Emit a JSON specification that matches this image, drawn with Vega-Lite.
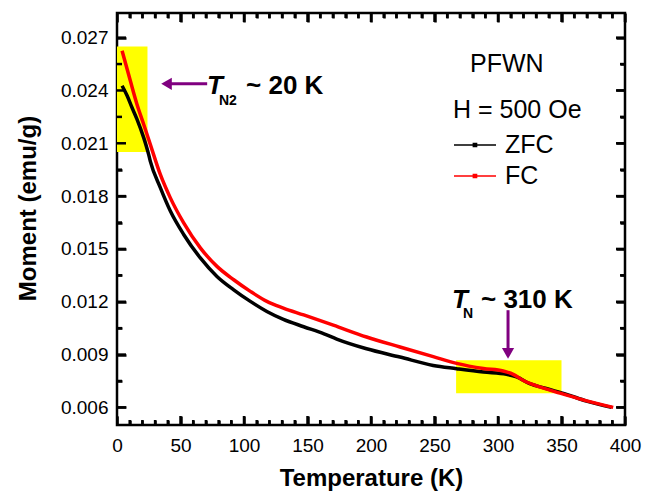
{
  "$schema": "https://vega.github.io/schema/vega-lite/v6.json",
  "width": 508,
  "height": 412,
  "autosize": {"type": "none"},
  "padding": {"left": 117, "top": 13, "right": 31, "bottom": 68},
  "config": {
    "view": {"stroke": "black", "strokeWidth": 2.5},
    "font": "Liberation Sans",
    "axis": {
      "grid": false,
      "domain": false,
      "ticks": true,
      "tickColor": "black",
      "tickWidth": 2.5,
      "labelColor": "black",
      "labelFontSize": 19,
      "labelFont": "Liberation Sans",
      "labelFlush": false,
      "labelOverlap": false,
      "titleColor": "black",
      "titleFont": "Liberation Sans",
      "titleFontSize": 24,
      "titleFontWeight": "bold"
    }
  },
  "datasets": {
    "xticks": [
      {"v": 0, "kind": "major"}, {"v": 10, "kind": "minor"}, {"v": 20, "kind": "minor"}, {"v": 30, "kind": "minor"}, {"v": 40, "kind": "minor"},
      {"v": 50, "kind": "major"}, {"v": 60, "kind": "minor"}, {"v": 70, "kind": "minor"}, {"v": 80, "kind": "minor"}, {"v": 90, "kind": "minor"},
      {"v": 100, "kind": "major"}, {"v": 110, "kind": "minor"}, {"v": 120, "kind": "minor"}, {"v": 130, "kind": "minor"}, {"v": 140, "kind": "minor"},
      {"v": 150, "kind": "major"}, {"v": 160, "kind": "minor"}, {"v": 170, "kind": "minor"}, {"v": 180, "kind": "minor"}, {"v": 190, "kind": "minor"},
      {"v": 200, "kind": "major"}, {"v": 210, "kind": "minor"}, {"v": 220, "kind": "minor"}, {"v": 230, "kind": "minor"}, {"v": 240, "kind": "minor"},
      {"v": 250, "kind": "major"}, {"v": 260, "kind": "minor"}, {"v": 270, "kind": "minor"}, {"v": 280, "kind": "minor"}, {"v": 290, "kind": "minor"},
      {"v": 300, "kind": "major"}, {"v": 310, "kind": "minor"}, {"v": 320, "kind": "minor"}, {"v": 330, "kind": "minor"}, {"v": 340, "kind": "minor"},
      {"v": 350, "kind": "major"}, {"v": 360, "kind": "minor"}, {"v": 370, "kind": "minor"}, {"v": 380, "kind": "minor"}, {"v": 390, "kind": "minor"},
      {"v": 400, "kind": "major"}
    ],
    "yticks": [
      {"v": 0.006, "kind": "major"}, {"v": 0.0075, "kind": "minor"}, {"v": 0.009, "kind": "major"}, {"v": 0.0105, "kind": "minor"},
      {"v": 0.012, "kind": "major"}, {"v": 0.0135, "kind": "minor"}, {"v": 0.015, "kind": "major"}, {"v": 0.0165, "kind": "minor"},
      {"v": 0.018, "kind": "major"}, {"v": 0.0195, "kind": "minor"}, {"v": 0.021, "kind": "major"}, {"v": 0.0225, "kind": "minor"},
      {"v": 0.024, "kind": "major"}, {"v": 0.0255, "kind": "minor"}, {"v": 0.027, "kind": "major"}
    ],
    "curves": [
      {"T": 4.0, "M": 0.02427, "series": "ZFC"},
      {"T": 8, "M": 0.0237, "series": "ZFC"},
      {"T": 11.8, "M": 0.02303, "series": "ZFC"},
      {"T": 15.7, "M": 0.02237, "series": "ZFC"},
      {"T": 21, "M": 0.02132, "series": "ZFC"},
      {"T": 24.9, "M": 0.02037, "series": "ZFC"},
      {"T": 26.2, "M": 0.01999, "series": "ZFC"},
      {"T": 34.1, "M": 0.01848, "series": "ZFC"},
      {"T": 42, "M": 0.01715, "series": "ZFC"},
      {"T": 52.5, "M": 0.01582, "series": "ZFC"},
      {"T": 65.6, "M": 0.01449, "series": "ZFC"},
      {"T": 78.7, "M": 0.01344, "series": "ZFC"},
      {"T": 91.9, "M": 0.01268, "series": "ZFC"},
      {"T": 105, "M": 0.01202, "series": "ZFC"},
      {"T": 118, "M": 0.01145, "series": "ZFC"},
      {"T": 131, "M": 0.01100, "series": "ZFC"},
      {"T": 147, "M": 0.01058, "series": "ZFC"},
      {"T": 163, "M": 0.01018, "series": "ZFC"},
      {"T": 173, "M": 0.00988, "series": "ZFC"},
      {"T": 196.5, "M": 0.00933, "series": "ZFC"},
      {"T": 222.8, "M": 0.00886, "series": "ZFC"},
      {"T": 249, "M": 0.00838, "series": "ZFC"},
      {"T": 267.4, "M": 0.0082, "series": "ZFC"},
      {"T": 288.5, "M": 0.00801, "series": "ZFC"},
      {"T": 306.7, "M": 0.00788, "series": "ZFC"},
      {"T": 314.6, "M": 0.00773, "series": "ZFC"},
      {"T": 325, "M": 0.00735, "series": "ZFC"},
      {"T": 338, "M": 0.00707, "series": "ZFC"},
      {"T": 354, "M": 0.00674, "series": "ZFC"},
      {"T": 369.7, "M": 0.00636, "series": "ZFC"},
      {"T": 389.4, "M": 0.0060, "series": "ZFC"},
      {"T": 4.0, "M": 0.02626, "series": "FC"},
      {"T": 10.5, "M": 0.02455, "series": "FC"},
      {"T": 15.7, "M": 0.02322, "series": "FC"},
      {"T": 21, "M": 0.02208, "series": "FC"},
      {"T": 26.2, "M": 0.02094, "series": "FC"},
      {"T": 34.1, "M": 0.01923, "series": "FC"},
      {"T": 42, "M": 0.0179, "series": "FC"},
      {"T": 52.5, "M": 0.01648, "series": "FC"},
      {"T": 65.6, "M": 0.01506, "series": "FC"},
      {"T": 78.7, "M": 0.01401, "series": "FC"},
      {"T": 91.9, "M": 0.01325, "series": "FC"},
      {"T": 105, "M": 0.01259, "series": "FC"},
      {"T": 118, "M": 0.01202, "series": "FC"},
      {"T": 131, "M": 0.01164, "series": "FC"},
      {"T": 147, "M": 0.01125, "series": "FC"},
      {"T": 170.3, "M": 0.01067, "series": "FC"},
      {"T": 196.5, "M": 0.0100, "series": "FC"},
      {"T": 222.8, "M": 0.00943, "series": "FC"},
      {"T": 249, "M": 0.00888, "series": "FC"},
      {"T": 267.4, "M": 0.0085, "series": "FC"},
      {"T": 288.5, "M": 0.00821, "series": "FC"},
      {"T": 304, "M": 0.00807, "series": "FC"},
      {"T": 312, "M": 0.00788, "series": "FC"},
      {"T": 320, "M": 0.00753, "series": "FC"},
      {"T": 333, "M": 0.00716, "series": "FC"},
      {"T": 348.8, "M": 0.00681, "series": "FC"},
      {"T": 367, "M": 0.00643, "series": "FC"},
      {"T": 390.7, "M": 0.0060, "series": "FC"}
    ]
  },
  "layer": [
    {
      "data": {"values": [
        {"x1": 0, "x2": 24, "y1": 0.0205, "y2": 0.0265},
        {"x1": 267, "x2": 350, "y1": 0.0068, "y2": 0.00868}
      ]},
      "mark": {"type": "rect", "color": "#ffff00"},
      "encoding": {
        "x": {"field": "x1", "type": "quantitative", "scale": {"domain": [0, 400], "nice": false, "zero": false},
          "axis": {"orient": "top", "labels": false, "title": null, "offset": -9, "tickSize": 9,
            "values": [0,50,100,150,200,250,300,350,400]}},
        "x2": {"field": "x2"},
        "y": {"field": "y1", "type": "quantitative", "scale": {"domain": [0.005, 0.0284], "nice": false, "zero": false},
          "axis": {"orient": "right", "labels": false, "title": null, "offset": -9, "tickSize": 9,
            "values": [0.006,0.009,0.012,0.015,0.018,0.021,0.024,0.027]}},
        "y2": {"field": "y2"}
      }
    },
    {
      "data": {"name": "xticks"},
      "mark": {"type": "tick", "orient": "vertical", "clip": true, "thickness": 2.5, "color": "black", "opacity": 1},
      "encoding": {
        "x": {"field": "v", "type": "quantitative", "axis": null, "scale": {"domain": [0, 400], "nice": false, "zero": false}},
        "y": {"datum": 0.005, "type": "quantitative", "axis": null, "scale": {"domain": [0.005, 0.0284], "nice": false, "zero": false}},
        "size": {"field": "kind", "type": "ordinal", "scale": {"domain": ["major", "minor"], "range": [18, 10]}, "legend": null}
      }
    },
    {
      "data": {"name": "xticks"},
      "mark": {"type": "tick", "orient": "vertical", "clip": true, "thickness": 2.5, "color": "black", "opacity": 1},
      "encoding": {
        "x": {"field": "v", "type": "quantitative", "axis": null, "scale": {"domain": [0, 400], "nice": false, "zero": false}},
        "y": {"datum": 0.0284, "type": "quantitative", "axis": null, "scale": {"domain": [0.005, 0.0284], "nice": false, "zero": false}},
        "size": {"field": "kind", "type": "ordinal", "scale": {"domain": ["major", "minor"], "range": [18, 10]}, "legend": null}
      }
    },
    {
      "data": {"name": "yticks"},
      "mark": {"type": "tick", "orient": "horizontal", "clip": true, "thickness": 2.5, "color": "black", "opacity": 1},
      "encoding": {
        "y": {"field": "v", "type": "quantitative", "axis": null, "scale": {"domain": [0.005, 0.0284], "nice": false, "zero": false}},
        "x": {"datum": 0, "type": "quantitative", "axis": null, "scale": {"domain": [0, 400], "nice": false, "zero": false}},
        "size": {"field": "kind", "type": "ordinal", "scale": {"domain": ["major", "minor"], "range": [18, 10]}, "legend": null}
      }
    },
    {
      "data": {"name": "yticks"},
      "mark": {"type": "tick", "orient": "horizontal", "clip": true, "thickness": 2.5, "color": "black", "opacity": 1},
      "encoding": {
        "y": {"field": "v", "type": "quantitative", "axis": null, "scale": {"domain": [0.005, 0.0284], "nice": false, "zero": false}},
        "x": {"datum": 400, "type": "quantitative", "axis": null, "scale": {"domain": [0, 400], "nice": false, "zero": false}},
        "size": {"field": "kind", "type": "ordinal", "scale": {"domain": ["major", "minor"], "range": [18, 10]}, "legend": null}
      }
    },
    {
      "data": {"name": "curves"},
      "mark": {"type": "line", "strokeWidth": 3.5, "interpolate": "monotone"},
      "encoding": {
        "x": {"field": "T", "type": "quantitative", "scale": {"domain": [0, 400], "nice": false, "zero": false},
          "axis": {"orient": "bottom", "title": "Temperature (K)", "offset": -9, "tickSize": 9,
            "values": [0,50,100,150,200,250,300,350,400],
            "labelPadding": 11,
            "titleY": 69, "titleBaseline": "alphabetic"}},
        "y": {"field": "M", "type": "quantitative", "scale": {"domain": [0.005, 0.0284], "nice": false, "zero": false},
          "axis": {"orient": "left", "title": "Moment (emu/g)", "format": ".3f", "offset": -9, "tickSize": 9,
            "values": [0.006,0.009,0.012,0.015,0.018,0.021,0.024,0.027],
            "labelPadding": 9,
            "titleX": -98, "titleY": 195, "titleAngle": -90, "titleAlign": "center", "titleBaseline": "middle"}},
        "color": {"field": "series", "type": "nominal",
          "scale": {"domain": ["ZFC", "FC"], "range": ["#000000", "#ff0000"]},
          "legend": {"orient": "none", "legendX": 336, "legendY": 85, "padding": 0,
            "title": "H = 500 Oe", "titleFontSize": 25, "titleFontWeight": "normal", "titleColor": "black", "titlePadding": 5,
            "labelFontSize": 25, "labelColor": "black", "labelOffset": 18, "rowPadding": 1,
            "symbolType": "M-1,0H1.625M0.21,-0.1H0.41V0.1H0.21Z", "symbolSize": 1024, "symbolStrokeWidth": 1.5}}
      }
    },
    {
      "data": {"values": [
        {"x1": 38, "x2": 71, "y1": 0.02438, "y2": 0.02438},
        {"x1": 307.9, "x2": 307.9, "y1": 0.01152, "y2": 0.0092}
      ]},
      "mark": {"type": "rule", "color": "#800080", "strokeWidth": 3},
      "encoding": {
        "x": {"field": "x1", "type": "quantitative", "scale": {"domain": [0, 400], "nice": false, "zero": false},
          "axis": {"orient": "bottom", "labels": false, "title": null, "offset": -5, "tickSize": 5,
            "values": [10,20,30,40,60,70,80,90,110,120,130,140,160,170,180,190,210,220,230,240,260,270,280,290,310,320,330,340,360,370,380,390]}},
        "x2": {"field": "x2"},
        "y": {"field": "y1", "type": "quantitative", "scale": {"domain": [0.005, 0.0284], "nice": false, "zero": false},
          "axis": {"orient": "left", "labels": false, "title": null, "offset": -5, "tickSize": 5,
            "values": [0.0075,0.0105,0.0135,0.0165,0.0195,0.0225,0.0255]}},
        "y2": {"field": "y2"}
      }
    },
    {
      "data": {"values": [
        {"x": 39, "y": 0.02438, "dir": "left"},
        {"x": 307.9, "y": 0.00907, "dir": "down"}
      ]},
      "mark": {"type": "point", "filled": true, "color": "#800080", "opacity": 1, "size": 150},
      "encoding": {
        "x": {"field": "x", "type": "quantitative", "scale": {"domain": [0, 400], "nice": false, "zero": false},
          "axis": {"orient": "top", "labels": false, "title": null, "offset": -5, "tickSize": 5,
            "values": [10,20,30,40,60,70,80,90,110,120,130,140,160,170,180,190,210,220,230,240,260,270,280,290,310,320,330,340,360,370,380,390]}},
        "y": {"field": "y", "type": "quantitative", "scale": {"domain": [0.005, 0.0284], "nice": false, "zero": false},
          "axis": {"orient": "right", "labels": false, "title": null, "offset": -5, "tickSize": 5,
            "values": [0.0075,0.0105,0.0135,0.0165,0.0195,0.0225,0.0255]}},
        "shape": {"field": "dir", "type": "nominal", "scale": {"domain": ["left", "down"], "range": ["triangle-left", "triangle-down"]}, "legend": null}
      }
    },
    {
      "data": {"values": [
        {"x": 70.9, "y": 0.02381, "label": "T"},
        {"x": 263.8, "y": 0.011633, "label": "T"}
      ]},
      "mark": {"type": "text", "fontSize": 26, "fontWeight": "bold", "fontStyle": "italic", "align": "left", "baseline": "alphabetic", "color": "black"},
      "encoding": {
        "x": {"field": "x", "type": "quantitative", "axis": null, "scale": {"domain": [0, 400], "nice": false, "zero": false}},
        "y": {"field": "y", "type": "quantitative", "axis": null, "scale": {"domain": [0.005, 0.0284], "nice": false, "zero": false}},
        "text": {"field": "label"}
      }
    },
    {
      "data": {"values": [
        {"x": 80.3, "y": 0.02319, "label": "N2"},
        {"x": 272.4, "y": 0.011064, "label": "N"}
      ]},
      "mark": {"type": "text", "fontSize": 14, "fontWeight": "bold", "align": "left", "baseline": "alphabetic", "color": "black"},
      "encoding": {
        "x": {"field": "x", "type": "quantitative", "axis": null, "scale": {"domain": [0, 400], "nice": false, "zero": false}},
        "y": {"field": "y", "type": "quantitative", "axis": null, "scale": {"domain": [0.005, 0.0284], "nice": false, "zero": false}},
        "text": {"field": "label"}
      }
    },
    {
      "data": {"values": [
        {"x": 101.6, "y": 0.02381, "label": "~ 20 K"},
        {"x": 286.6, "y": 0.011633, "label": "~ 310 K"}
      ]},
      "mark": {"type": "text", "fontSize": 26, "fontWeight": "bold", "align": "left", "baseline": "alphabetic", "color": "black"},
      "encoding": {
        "x": {"field": "x", "type": "quantitative", "axis": null, "scale": {"domain": [0, 400], "nice": false, "zero": false}},
        "y": {"field": "y", "type": "quantitative", "axis": null, "scale": {"domain": [0.005, 0.0284], "nice": false, "zero": false}},
        "text": {"field": "label"}
      }
    },
    {
      "data": {"values": [
        {"x": 278, "y": 0.02506, "label": "PFWN"}
      ]},
      "mark": {"type": "text", "fontSize": 25, "align": "left", "baseline": "alphabetic", "color": "black"},
      "encoding": {
        "x": {"field": "x", "type": "quantitative", "axis": null, "scale": {"domain": [0, 400], "nice": false, "zero": false}},
        "y": {"field": "y", "type": "quantitative", "axis": null, "scale": {"domain": [0.005, 0.0284], "nice": false, "zero": false}},
        "text": {"field": "label"}
      }
    }
  ],
  "resolve": {"axis": {"x": "independent", "y": "independent"}}
}
